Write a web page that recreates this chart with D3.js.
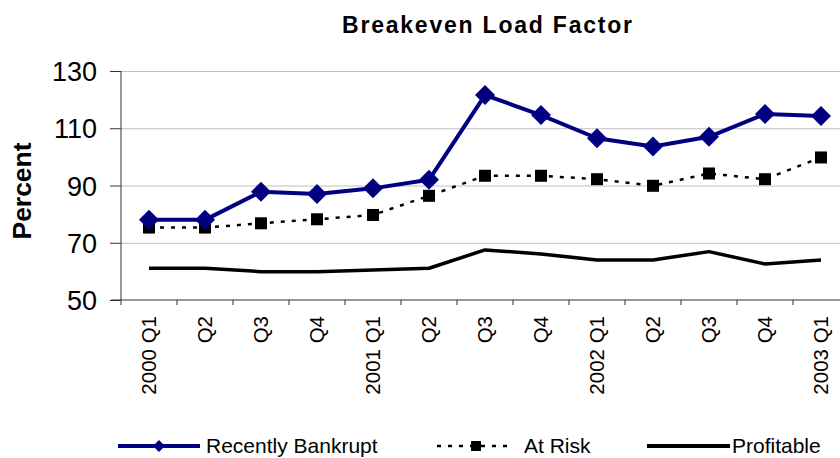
<!DOCTYPE html>
<html>
<head>
<meta charset="utf-8">
<script src="https://cdn.jsdelivr.net/npm/d3@7"></script>
<style>
  body { margin: 0; background: #fff; }
  svg { display: block; font-family: "Liberation Sans", Arial, sans-serif; }
</style>
</head>
<body>
<svg id="chart" width="840" height="458"></svg>
<script>
// quarters on the x axis (two-line labels joined with a space)
const quarters = ['2000 Q1', 'Q2', 'Q3', 'Q4', '2001 Q1', 'Q2', 'Q3', 'Q4',
    '2002 Q1', 'Q2', 'Q3', 'Q4', '2003 Q1'];

const bankrupt = [78, 78, 87.8, 87, 89, 92, 121.6, 114.6, 106.5, 103.6, 107, 115, 114.3];
const atRisk = [75.3, 75.3, 76.8, 78.2, 79.7, 86.4, 93.4, 93.4, 92.2, 89.9, 94.2, 92.2, 99.8];
const profitable = [61.1, 61.1, 59.9, 59.9, 60.5, 61.1, 67.5, 66.1, 64, 64, 66.9, 62.6, 64];

const yTicks = [50, 70, 90, 110, 130];

const svg = d3.select('#chart');

const plot = { left: 121, right: 849, top: 71, bottom: 300 };

const idx = d3.range(quarters.length);

const x = d3.scaleBand()
    .domain(idx)
    .range([plot.left, plot.right]);

const cx = i => x(i) + x.bandwidth() / 2;

const y = d3.scaleLinear()
    .domain([50, 130])
    .range([plot.bottom, plot.top]);

// gridlines
svg.append('g')
    .attr('transform', `translate(${plot.left},0)`)
    .call(d3.axisLeft(y).tickValues(yTicks.slice(1)).tickSize(-(plot.right - plot.left)).tickFormat(''))
    .call(g => g.select('.domain').remove())
    .call(g => g.selectAll('line').attr('stroke', '#c0c0c0'));

// y axis
svg.append('g')
    .attr('transform', `translate(${plot.left},0)`)
    .call(d3.axisLeft(y).tickValues(yTicks).tickSize(11).tickPadding(13))
    .call(g => g.select('.domain').attr('d', `M0,${plot.top}V${plot.bottom + 5}`).attr('stroke', '#333'))
    .call(g => g.selectAll('line').attr('stroke', '#333'))
    .call(g => g.selectAll('text')
        .attr('font-size', 27)
        .attr('fill', '#000')
        .attr('font-family', '"Liberation Sans", Arial, sans-serif')
        .attr('dy', '0.36em'));

// x axis line and boundary ticks
const xa = svg.append('g');
xa.append('line')
    .attr('x1', plot.left - 10).attr('x2', plot.right)
    .attr('y1', plot.bottom).attr('y2', plot.bottom)
    .attr('stroke', '#333');
xa.selectAll('.tk')
    .data(idx.slice(1))
    .enter()
    .append('line')
    .attr('x1', d => x(d)).attr('x2', d => x(d))
    .attr('y1', plot.bottom).attr('y2', plot.bottom + 5)
    .attr('stroke', '#333');

xa.selectAll('.lbl')
    .data(idx)
    .enter()
    .append('text')
    .attr('transform', d => `translate(${cx(d)},316) rotate(-90)`)
    .attr('text-anchor', 'end')
    .attr('dy', '0.36em')
    .attr('font-size', 20.5)
    .text(d => quarters[d]);

// lines
const line = d3.line()
    .x((d, i) => cx(i))
    .y(d => y(d));

svg.append('path')
    .datum(profitable)
    .attr('d', line)
    .attr('fill', 'none')
    .attr('stroke', '#000')
    .attr('stroke-width', 3.5)
    .attr('stroke-linejoin', 'round');

svg.append('path')
    .datum(atRisk)
    .attr('d', line)
    .attr('fill', 'none')
    .attr('stroke', '#000')
    .attr('stroke-width', 2.5)
    .attr('stroke-dasharray', '4,7');

svg.append('g')
    .selectAll('rect')
    .data(atRisk)
    .enter()
    .append('rect')
    .attr('x', (d, i) => cx(i) - 6)
    .attr('y', d => y(d) - 6)
    .attr('width', 12)
    .attr('height', 12)
    .attr('fill', '#000');

svg.append('path')
    .datum(bankrupt)
    .attr('d', line)
    .attr('fill', 'none')
    .attr('stroke', '#000080')
    .attr('stroke-width', 4)
    .attr('stroke-linejoin', 'round');

svg.append('g')
    .selectAll('path')
    .data(bankrupt)
    .enter()
    .append('path')
    .attr('d', 'M0,-10L10,0L0,10L-10,0Z')
    .attr('transform', (d, i) => `translate(${cx(i)},${y(d)})`)
    .attr('fill', '#000080');

// title
svg.append('text')
    .attr('x', 487).attr('y', 33)
    .attr('text-anchor', 'middle')
    .attr('font-size', 23)
    .attr('font-weight', 'bold')
    .attr('textLength', 290)
    .attr('lengthAdjust', 'spacing')
    .text('Breakeven Load Factor');

// y axis title
svg.append('text')
    .attr('transform', 'translate(31,191) rotate(-90)')
    .attr('text-anchor', 'middle')
    .attr('font-size', 26)
    .attr('font-weight', 'bold')
    .attr('textLength', 97)
    .attr('lengthAdjust', 'spacingAndGlyphs')
    .text('Percent');

// legend
const legY = 446;
const legBase = 453;
const leg = svg.append('g');

leg.append('line')
    .attr('x1', 118).attr('x2', 200).attr('y1', legY).attr('y2', legY)
    .attr('stroke', '#000080').attr('stroke-width', 4);
leg.append('path')
    .attr('d', 'M0,-6L6,0L0,6L-6,0Z')
    .attr('transform', `translate(159,${legY})`)
    .attr('fill', '#000080');
leg.append('text')
    .attr('x', 206).attr('y', legBase)
    .attr('font-size', 21)
    .text('Recently Bankrupt');

leg.append('line')
    .attr('x1', 437).attr('x2', 514).attr('y1', legY).attr('y2', legY)
    .attr('stroke', '#000').attr('stroke-width', 2.5)
    .attr('stroke-dasharray', '4,7');
leg.append('rect')
    .attr('x', 471).attr('y', legY - 5)
    .attr('width', 10).attr('height', 10)
    .attr('fill', '#000');
leg.append('text')
    .attr('x', 524).attr('y', legBase)
    .attr('font-size', 21)
    .text('At Risk');

leg.append('line')
    .attr('x1', 647).attr('x2', 730).attr('y1', legY).attr('y2', legY)
    .attr('stroke', '#000').attr('stroke-width', 4);
leg.append('text')
    .attr('x', 732).attr('y', legBase)
    .attr('font-size', 21)
    .text('Profitable');
</script>
</body>
</html>
